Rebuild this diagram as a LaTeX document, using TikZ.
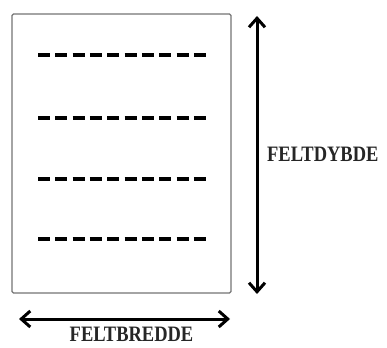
\documentclass[tikz,border=0pt]{standalone}
\usepackage{fontspec}
\setmainfont{Liberation Serif}
\usetikzlibrary{arrows.meta, positioning}

\begin{document}
\begin{tikzpicture}[x=1pt, y=-1pt,
    field/.style={rectangle, draw=black!55, line width=1.3pt, rounded corners=1.5pt, minimum width=219pt, minimum height=279pt, inner sep=0pt},
    row/.style={line width=3.4pt, dash pattern=on 12pt off 5.33pt},
    dim/.style={{Straight Barb[length=9pt, width=16pt]}-{Straight Barb[length=9pt, width=16pt]}, line width=3pt},
    dimlabel/.style={font=\fontsize{22}{26}\selectfont\bfseries, inner sep=0pt, xscale=0.84, transform shape, text=black!85}
]
\useasboundingbox (0,0) rectangle (387,347);

% Field boundary
\node[field] (field) at (121.5,153.5) {};

% Rows
\coordinate (r1a) at (38,55);  \coordinate (r1b) at (206,55);
\coordinate (r2a) at (38,118); \coordinate (r2b) at (206,118);
\coordinate (r3a) at (38,179); \coordinate (r3b) at (206,179);
\coordinate (r4a) at (38,239); \coordinate (r4b) at (206,239);
\draw[row] (r1a) -- (r1b);
\draw[row] (r2a) -- (r2b);
\draw[row] (r3a) -- (r3b);
\draw[row] (r4a) -- (r4b);

% Depth
\coordinate (dtop) at (257,16);
\coordinate (dbot) at (257,294);
\draw[dim] (dtop) -- (dbot);
\node[dimlabel, anchor=base west] (depth) at (267,161) {FELTDYBDE};

% Width
\coordinate (wleft) at (19,319);
\coordinate (wright) at (230,319);
\draw[dim] (wleft) -- (wright);
\node[dimlabel, anchor=base] (width) at (131.5,341) {FELTBREDDE};

\end{tikzpicture}
\end{document}
